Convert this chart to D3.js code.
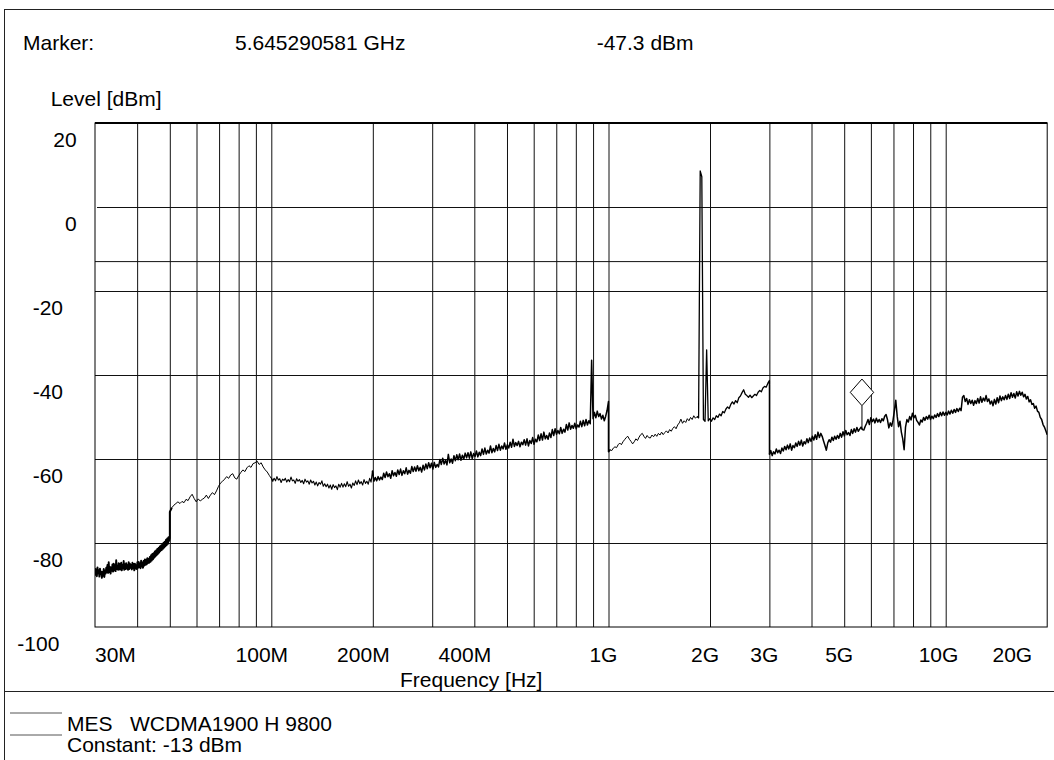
<!DOCTYPE html>
<html>
<head>
<meta charset="utf-8">
<script src="https://cdnjs.cloudflare.com/ajax/libs/d3/7.8.5/d3.min.js"></script>
<style>
  html, body { margin: 0; padding: 0; background: #fff; }
  svg { display: block; font-family: "Liberation Sans", Arial, sans-serif; }
  text { fill: #000; font-size: 21px; }
</style>
</head>
<body>
<svg id="chart" width="1054" height="760"></svg>
<script>
// ---- sweep data -----------------------------------------------------------
// Sub-range edges of the sweep in MHz; each levels array holds the measured
// points of one sub-range, spaced evenly on the log frequency axis.
const sweepEdges = [30, 50, 100, 1000, 3000, 20000];

const levels30to50 = [
  -86.0,-87.6,-86.3,-87.9,-85.8,-87.2,-86.5,-88.0,-86.1,-87.4,
  -86.8,-88.3,-86.9,-87.8,-86.2,-88.1,-86.6,-87.3,-85.9,-87.0,
  -85.2,-87.1,-84.6,-86.9,-85.7,-87.3,-85.8,-86.6,-85.1,-86.8,
  -84.9,-86.5,-85.3,-86.7,-84.1,-86.2,-85.5,-86.4,-84.8,-86.3,
  -85.0,-86.3,-84.7,-86.5,-85.2,-86.0,-84.3,-86.4,-85.1,-86.2,
  -84.8,-86.1,-85.3,-86.4,-84.6,-86.2,-84.9,-85.9,-85.2,-86.3,
  -84.7,-86.0,-85.0,-86.5,-84.9,-86.1,-85.3,-86.2,-84.6,-85.9,
  -84.5,-85.8,-84.9,-86.0,-84.2,-85.6,-84.7,-85.9,-84.3,-85.4,
  -83.9,-85.2,-84.0,-85.1,-83.6,-84.8,-83.8,-84.7,-83.3,-84.5,
  -82.9,-84.2,-82.6,-83.9,-82.4,-83.5,-82.0,-83.2,-81.8,-82.9,
  -81.4,-82.6,-81.2,-82.3,-80.8,-81.9,-80.6,-81.7,-80.3,-81.4,
  -79.9,-81.1,-79.7,-80.8,-79.2,-80.5,-78.9,-80.2,-78.6,-79.5,
  -78.8
];

const levels50to100 = [
  -72.6,-71.6,-71.0,-70.6,-70.2,-70.6,-70.1,-70.4,-69.6,-69.9,
  -69.0,-68.4,-69.4,-70.2,-69.5,-70.0,-69.6,-69.3,-68.6,-69.4,
  -68.6,-68.0,-68.5,-67.6,-66.5,-65.7,-65.3,-64.8,-64.2,-64.6,
  -63.8,-63.5,-64.5,-64.8,-63.9,-63.2,-62.6,-63.0,-62.1,-61.6,
  -62.0,-61.1,-60.9,-60.5,-61.3,-60.9,-61.9,-62.6,-63.1,-63.9,
  -64.6
];

const levels100to1000 = [
  -64.5,-65.3,-64.6,-65.2,-64.2,-65.0,-64.7,-65.6,-64.8,-65.1,
  -64.6,-65.5,-64.9,-65.4,-64.3,-65.2,-65.0,-65.8,-64.7,-65.3,
  -64.9,-65.6,-65.1,-65.9,-64.8,-65.5,-65.2,-66.0,-65.0,-65.7,
  -65.3,-66.2,-65.5,-66.4,-65.6,-66.0,-65.2,-66.5,-65.9,-66.6,
  -66.0,-66.9,-66.2,-67.2,-66.1,-66.8,-66.4,-67.3,-66.0,-66.7,
  -65.8,-66.7,-65.9,-66.6,-65.4,-66.5,-66.0,-66.9,-65.7,-66.3,
  -65.2,-66.1,-65.0,-65.9,-65.4,-66.2,-64.9,-65.8,-65.3,-66.0,
  -64.6,-65.5,-62.8,-65.3,-64.4,-65.2,-64.2,-65.0,-64.3,-64.9,
  -63.4,-64.4,-63.1,-64.2,-63.5,-64.6,-62.8,-64.0,-63.2,-64.1,
  -62.6,-63.7,-62.4,-63.9,-62.8,-63.5,-62.1,-63.6,-62.7,-63.4,
  -61.8,-63.0,-61.9,-62.9,-61.6,-62.8,-62.0,-63.1,-61.5,-62.6,
  -61.2,-62.3,-60.9,-62.1,-61.0,-62.4,-60.8,-62.0,-61.3,-61.9,
  -60.1,-61.3,-59.8,-61.2,-60.3,-61.4,-58.9,-60.9,-60.0,-61.0,
  -59.2,-60.4,-59.0,-60.2,-58.8,-60.3,-59.1,-60.0,-58.6,-59.7,
  -58.5,-59.8,-58.3,-59.9,-58.7,-59.4,-58.1,-59.5,-58.4,-59.2,
  -57.6,-58.9,-57.4,-58.8,-57.9,-58.6,-56.9,-58.5,-57.5,-58.3,
  -56.8,-58.0,-56.5,-57.9,-56.9,-57.6,-56.2,-57.7,-56.6,-57.4,
  -56.0,-57.2,-55.3,-57.0,-56.1,-56.8,-55.8,-57.1,-56.0,-56.6,
  -55.4,-56.7,-55.2,-56.9,-55.6,-56.3,-54.9,-56.5,-55.3,-55.9,
  -54.3,-55.6,-54.0,-55.5,-53.6,-55.2,-54.4,-55.3,-53.8,-54.9,
  -53.0,-54.4,-52.8,-54.1,-53.2,-54.0,-52.5,-53.9,-52.9,-53.6,
  -51.8,-53.1,-51.4,-52.9,-52.0,-52.7,-51.5,-52.8,-51.9,-52.4,
  -51.0,-52.3,-50.8,-52.1,-50.6,-51.9,-50.9,-51.6,-36.5,-50.4,
  -48.9,-50.2,-48.6,-49.9,-49.2,-50.5,-49.6,-50.9,-49.8,-48.4,
  -46.3
];

const levels1000to3000 = [
  -58.3,-57.8,-58.0,-57.4,-57.1,-57.3,-56.6,-56.2,-56.6,-55.9,
  -55.4,-54.9,-54.6,-55.3,-55.8,-56.4,-55.9,-55.2,-55.6,-54.8,
  -54.2,-53.9,-54.6,-55.1,-54.4,-54.9,-55.0,-54.3,-54.7,-54.1,
  -54.6,-53.9,-54.3,-53.6,-54.2,-53.7,-53.3,-53.8,-53.0,-53.4,
  -52.7,-52.3,-52.8,-51.9,-51.4,-50.5,-51.5,-50.9,-51.3,-50.4,
  -50.9,-50.1,-50.6,-49.7,-50.3,-49.9,-50.2,  8.6,  7.2,-50.6,
  -51.0,-34.0,-50.9,-50.4,-51.0,-50.2,-50.6,-49.7,-50.1,-49.3,
  -49.7,-48.7,-49.0,-48.1,-47.6,-48.0,-47.0,-46.4,-46.9,-46.1,
  -46.6,-45.4,-45.0,-44.2,-43.5,-44.6,-44.9,-45.3,-44.8,-45.4,
  -45.0,-44.6,-44.9,-44.1,-43.7,-44.0,-43.1,-42.7,-42.9,-42.0,
  -41.3
];

const levels3000to20000 = [
  -58.9,-58.0,-59.2,-58.3,-58.8,-57.6,-58.5,-57.9,-58.7,-57.4,
  -58.1,-57.0,-57.8,-56.7,-57.6,-56.4,-57.9,-56.8,-57.3,-56.2,
  -57.0,-55.8,-56.7,-55.5,-56.9,-55.9,-56.4,-55.2,-56.1,-55.0,
  -55.8,-54.6,-55.5,-54.2,-55.3,-53.6,-54.9,-53.9,-54.6,-55.7,
  -56.8,-57.9,-56.2,-55.4,-56.0,-54.8,-55.6,-54.6,-55.3,-54.4,
  -55.1,-53.9,-54.8,-53.5,-54.5,-53.2,-54.2,-53.7,-54.4,-53.0,
  -53.9,-52.8,-53.6,-52.5,-53.4,-52.9,-52.4,-53.0,-53.1,-52.2,
  -51.5,-50.6,-51.8,-50.2,-51.1,-50.5,-51.4,-50.3,-51.2,-50.6,
  -51.3,-50.4,-50.9,-49.8,-49.4,-50.6,-52.6,-51.4,-52.2,-50.8,
  -48.5,-46.0,-49.8,-52.3,-51.0,-53.6,-55.2,-57.8,-52.4,-50.6,
  -51.2,-49.9,-50.7,-49.1,-50.2,-49.6,-50.8,-51.3,-51.9,-50.7,
  -51.2,-50.1,-50.8,-49.9,-50.5,-49.6,-50.6,-49.8,-50.4,-49.5,
  -50.1,-49.2,-49.9,-48.9,-49.7,-48.8,-49.6,-48.9,-49.5,-48.6,
  -49.3,-48.4,-49.1,-48.2,-48.9,-48.0,-48.7,-47.9,-48.5,-45.3,
  -44.9,-46.3,-45.6,-47.0,-45.9,-46.8,-46.0,-47.2,-46.1,-46.8,
  -45.6,-46.7,-45.2,-46.5,-45.5,-46.2,-44.9,-46.3,-45.7,-46.9,
  -46.2,-47.3,-45.8,-46.9,-45.4,-46.6,-45.0,-46.1,-45.2,-45.9,
  -44.9,-45.8,-44.6,-45.6,-44.2,-45.3,-44.4,-45.5,-44.0,-45.0,
  -43.9,-44.8,-44.1,-45.2,-44.6,-45.7,-45.1,-46.4,-45.9,-47.0,
  -46.8,-47.9,-47.4,-48.6,-48.9,-50.1,-50.6,-51.8,-52.4,-53.3,
  -54.2
];

const sweepLevels = [levels30to50, levels50to100, levels100to1000, levels1000to3000, levels3000to20000];

// axes
const xTickValues = [30, 100, 200, 400, 1000, 2000, 3000, 5000, 10000, 20000];
const xTickLabels = ["30M", "100M", "200M", "400M", "1G", "2G", "3G", "5G", "10G", "20G"];
const yTickValues = [20, 0, -20, -40, -60, -80, -100];

// limit line and marker
const limitLevel = -13;
const markerFreqMHz = 5645.290581;
const markerLevel = -47.3;
const markerFreqText = "5.645290581 GHz";
const markerLevelText = "-47.3 dBm";
const traceName = "MES   WCDMA1900 H 9800";
const limitName = "Constant: -13 dBm";

// pen weight of the trace per frequency band (upper edge in MHz, px)
const penBandEdges = [50, 100, 200, 1000, 1850, 3000, 20000];
const penBandWidths = [1.9, 1.0, 1.1, 1.5, 1.0, 1.3, 1.5];

// ---- layout ---------------------------------------------------------------
const svg = d3.select("#chart");
const plot = { left: 95, right: 1047.2, top: 123, bottom: 627 };

const x = d3.scaleLog().domain([30, 20000]).range([plot.left, plot.right]);
const y = d3.scaleLinear().domain([-100, 20]).range([plot.bottom, plot.top]);

// outer frame and legend separator
svg.append("rect")
  .attr("x", 4.5).attr("y", 9.5).attr("width", 1100).attr("height", 800)
  .attr("fill", "none").attr("stroke", "#222").attr("stroke-width", 1);
svg.append("line")
  .attr("x1", 4.5).attr("x2", 1054).attr("y1", 691.5).attr("y2", 691.5)
  .attr("stroke", "#222").attr("stroke-width", 1);

// header
svg.append("text").attr("x", 23).attr("y", 49.5).text("Marker:");
svg.append("text").attr("x", 235).attr("y", 49.5).text(markerFreqText);
svg.append("text").attr("x", 596.7).attr("y", 49.5).text(markerLevelText);
svg.append("text").attr("x", 50.7).attr("y", 106).text("Level [dBm]");

// vertical grid: 1..9 per decade
const gridFreqs = [];
[10, 100, 1000, 10000].forEach(dec => {
  for (let n = 1; n <= 9; n++) {
    const f = n * dec;
    if (f > 30 && f < 20000) gridFreqs.push(f);
  }
});
const gridV = svg.append("g").attr("transform", `translate(0,${plot.bottom})`)
  .call(d3.axisBottom(x).tickValues(gridFreqs).tickSize(-(plot.bottom - plot.top)).tickFormat(""));
gridV.select(".domain").remove();
gridV.selectAll(".tick line").attr("stroke", "#111").attr("stroke-width", 1);

// horizontal grid
const gridH = svg.append("g").attr("transform", `translate(${plot.left},0)`)
  .call(d3.axisLeft(y).tickValues(yTickValues.filter(v => v !== 20 && v !== -100))
    .tickSize(-(plot.right - plot.left)).tickFormat(""));
gridH.select(".domain").remove();
gridH.selectAll(".tick line").attr("stroke", "#111").attr("stroke-width", 1)
  .attr("x1", d => d === 0 ? 2 : 0);

// limit line
svg.append("line")
  .attr("x1", plot.left).attr("x2", plot.right)
  .attr("y1", y(limitLevel)).attr("y2", y(limitLevel))
  .attr("stroke", "#111").attr("stroke-width", 1);

// plot border (top edge heavier)
svg.append("rect")
  .attr("x", plot.left).attr("y", plot.top)
  .attr("width", plot.right - plot.left).attr("height", plot.bottom - plot.top)
  .attr("fill", "none").attr("stroke", "#000").attr("stroke-width", 1);
svg.append("line")
  .attr("x1", plot.left).attr("x2", plot.right)
  .attr("y1", plot.top).attr("y2", plot.top)
  .attr("stroke", "#000").attr("stroke-width", 2);

// y tick labels
const yLab = svg.append("g");
yTickValues.forEach(v => {
  const t = yLab.append("text").attr("y", y(v) + 23.5).text(String(v));
  const w = t.node().getComputedTextLength();
  // positive labels flush right, negative labels offset by the sign
  let right = v >= 0 ? 76.7 : (v === -100 ? 59.4 : 63);
  t.attr("x", right - w);
});

// x tick labels
const xLab = svg.append("g");
xTickValues.forEach((v, i) => {
  const t = xLab.append("text").attr("y", 661.7).text(xTickLabels[i]);
  const w = t.node().getComputedTextLength();
  let left;
  if (i === 0) left = plot.left;
  else if (i === xTickValues.length - 1) left = plot.right - 15 - w;
  else left = x(v) - 0.68 * w;
  t.attr("x", left);
});
svg.append("text").attr("x", 400).attr("y", 687).text("Frequency [Hz]");

// ---- trace ----------------------------------------------------------------
const tracePts = [];
sweepLevels.forEach((levels, s) => {
  const f0 = Math.log10(sweepEdges[s]), f1 = Math.log10(sweepEdges[s + 1]);
  const n = levels.length;
  levels.forEach((lv, i) => {
    tracePts.push({ f: Math.pow(10, f0 + (f1 - f0) * i / (n - 1)), v: lv });
  });
});

const line = d3.line().x(d => x(d.f)).y(d => y(d.v));
const clipId = "plotClip";
svg.append("clipPath").attr("id", clipId).append("rect")
  .attr("x", plot.left).attr("y", plot.top - 2)
  .attr("width", plot.right - plot.left).attr("height", plot.bottom - plot.top + 2);

// split the trace into pieces by pen band; neighbouring pieces share a point
const pieces = [];
let lo = 0;
penBandEdges.forEach((edge, b) => {
  let hi = lo;
  while (hi < tracePts.length - 1 && tracePts[hi + 1].f <= edge * 1.000001) hi++;
  if (hi < tracePts.length - 1) hi++;
  pieces.push({ pts: tracePts.slice(lo, hi + 1), w: penBandWidths[b] });
  lo = hi - 1 < lo ? lo : hi - 1;
});

svg.append("g").attr("clip-path", `url(#${clipId})`)
  .selectAll("path").data(pieces).join("path")
  .attr("d", d => line(d.pts))
  .attr("fill", "none").attr("stroke", "#000")
  .attr("stroke-width", d => d.w)
  .attr("stroke-linejoin", "round");

// ---- marker ---------------------------------------------------------------
const nearest = tracePts.reduce((a, b) =>
  Math.abs(Math.log(b.f / markerFreqMHz)) < Math.abs(Math.log(a.f / markerFreqMHz)) ? b : a);
const mx = x(markerFreqMHz), my = y(markerLevel);
svg.append("line")
  .attr("x1", mx).attr("x2", mx).attr("y1", my).attr("y2", y(nearest.v))
  .attr("stroke", "#000").attr("stroke-width", 1);
const hw = 11.7, hh = 13.3;
svg.append("path")
  .attr("d", `M${mx},${my} L${mx - hw},${my - hh} L${mx},${my - 2 * hh} L${mx + hw},${my - hh} Z`)
  .attr("fill", "#fff").attr("stroke", "#000").attr("stroke-width", 1);

// ---- legend ---------------------------------------------------------------
svg.append("line").attr("x1", 10).attr("x2", 62).attr("y1", 713).attr("y2", 713)
  .attr("stroke", "#555").attr("stroke-width", 1);
svg.append("line").attr("x1", 10).attr("x2", 62).attr("y1", 735).attr("y2", 735)
  .attr("stroke", "#555").attr("stroke-width", 1);
svg.append("text").attr("x", 67).attr("y", 731).attr("xml:space", "preserve")
  .style("white-space", "pre").text(traceName);
svg.append("text").attr("x", 67).attr("y", 752).text(limitName);
</script>
</body>
</html>
